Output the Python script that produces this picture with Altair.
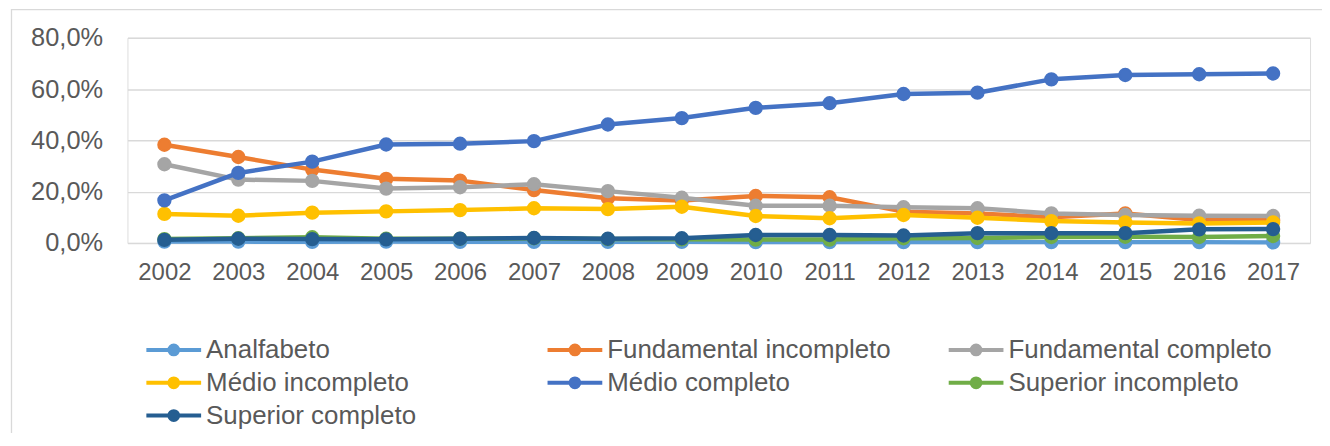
import altair as alt
import pandas as pd

years = [str(y) for y in range(2002, 2018)]
series = ["Analfabeto", "Fundamental incompleto", "Fundamental completo",
          "Médio incompleto", "Médio completo", "Superior incompleto",
          "Superior completo"]
colors = ["#5B9BD5", "#ED7D31", "#A5A5A5", "#FFC000", "#4472C4", "#70AD47", "#255E91"]

analfabeto = [0.5, 0.5, 0.4, 0.5, 0.4, 0.4, 0.4, 0.4, 0.3, 0.3, 0.3, 0.3, 0.3, 0.3, 0.3, 0.2]
fund_inc = [38.3, 33.5, 28.6, 25.0, 24.3, 20.6, 17.4, 16.5, 18.3, 17.8, 12.2, 11.5, 10.0, 11.5, 8.9, 8.8]
fund_comp = [30.7, 24.7, 24.2, 21.2, 21.7, 22.9, 20.2, 17.6, 14.5, 14.5, 13.9, 13.5, 11.5, 10.9, 10.6, 10.5]
medio_inc = [11.3, 10.6, 11.8, 12.3, 12.8, 13.5, 13.2, 14.1, 10.5, 9.6, 10.9, 9.8, 8.5, 8.0, 7.6, 8.0]
medio_comp = [16.6, 27.3, 31.7, 38.4, 38.7, 39.7, 46.2, 48.7, 52.7, 54.5, 58.1, 58.6, 63.8, 65.5, 65.8, 66.1]
sup_inc = [1.5, 1.8, 2.2, 1.6, 1.6, 1.8, 1.5, 1.4, 1.3, 1.3, 1.8, 1.9, 2.3, 2.4, 2.3, 2.7]
sup_comp = [1.2, 1.6, 1.5, 1.4, 1.6, 1.9, 1.6, 1.8, 3.1, 3.1, 2.9, 3.8, 3.8, 3.8, 5.3, 5.4]

values = [analfabeto, fund_inc, fund_comp, medio_inc, medio_comp, sup_inc, sup_comp]

rows = []
for s, vals in zip(series, values):
    for y, v in zip(years, vals):
        rows.append({"ano": y, "serie": s, "valor": v})
df = pd.DataFrame(rows)

FONT = "Liberation Sans"
TXT = "#595959"

color_scale = alt.Scale(domain=series, range=colors)
legend_symbol = "M-1,0L1,0M0.16,0A0.16,0.16,0,1,1,-0.16,0A0.16,0.16,0,1,1,0.16,0Z"
legend = alt.Legend(
    orient="none", legendX=17, legendY=297, title=None, columns=3,
    direction="horizontal", values=series,
    symbolType=legend_symbol, symbolSize=3025, symbolStrokeWidth=4,
    symbolOpacity=1, labelFontSize=26, labelColor=TXT, labelFont=FONT,
    labelLimit=600, labelOffset=3, columnPadding=56, rowPadding=0,
    clipHeight=33, gridAlign="all", padding=0,
)

x_enc = alt.X("ano:O", scale=alt.Scale(padding=0.5),
              axis=alt.Axis(title=None, labelAngle=0, ticks=False, domain=False,
                            grid=False, labelFontSize=24, labelColor=TXT,
                            labelFont=FONT, labelPadding=18))
y_enc = alt.Y("valor:Q", scale=alt.Scale(domain=[0, 80], nice=False),
              axis=alt.Axis(title=None, values=[0, 20, 40, 60, 80],
                            labelExpr="replace(format(datum.value, '.1f'), '.', ',') + '%'",
                            grid=True, gridColor="#D9D9D9", gridWidth=1.5,
                            domain=False, ticks=False, labelFontSize=25.5,
                            labelColor=TXT, labelFont=FONT, labelPadding=25))

frame = alt.Chart(alt.Data(values=[{"k": 1}])).mark_rect(
    fill="transparent", stroke="#D9D9D9", strokeWidth=1.3
).encode(
    x=alt.value(-116.5), x2=alt.value(1400),
    y=alt.value(-28.3), y2=alt.value(800),
)

layers = [frame]
base = alt.Chart(df)
for s in series:
    sub = base.transform_filter(alt.datum.serie == s)
    line = sub.mark_line(strokeWidth=4.5, strokeJoin="round", strokeCap="round").encode(
        x=x_enc, y=y_enc,
        stroke=alt.Stroke("serie:N", scale=color_scale, legend=legend),
    )
    pts = sub.mark_point(filled=True, size=154, opacity=1).encode(
        x=x_enc, y=y_enc,
        fill=alt.Fill("serie:N", scale=color_scale, legend=legend),
        stroke=alt.Stroke("serie:N", scale=color_scale, legend=legend),
    )
    layers += [line, pts]

chart = alt.layer(*layers).properties(
    width=1188, height=206,
    autosize=alt.AutoSizeParams(type="none"),
    padding={"left": 120, "top": 29, "right": 12, "bottom": 190},
    background="white",
).configure_view(stroke=None).configure(font=FONT)

chart.save("out.html", embed_options={"renderer": "svg", "actions": False})
